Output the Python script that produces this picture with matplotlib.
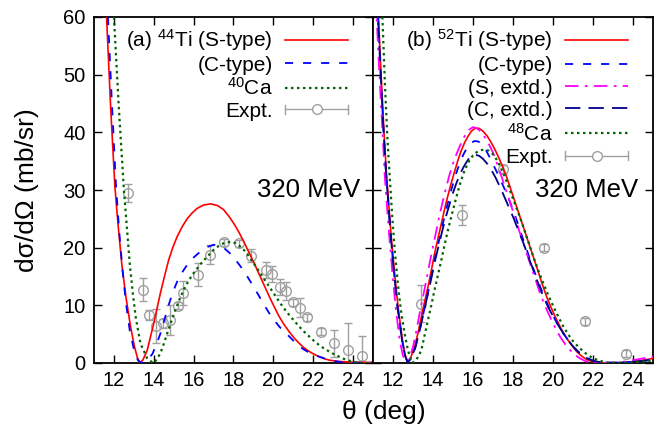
import numpy as np
import matplotlib
matplotlib.use("Agg")
import matplotlib.pyplot as plt
from matplotlib.lines import Line2D
from matplotlib.container import ErrorbarContainer
from matplotlib.legend_handler import HandlerBase

plt.rcParams['font.family'] = ['Liberation Sans', 'DejaVu Sans']
plt.rcParams['mathtext.fontset'] = 'custom'
plt.rcParams['mathtext.rm'] = 'Liberation Sans'
plt.rcParams['mathtext.it'] = 'Liberation Sans:italic'

# ---- panel (a): 44Ti / 40Ca ----
th_a_s = [11.50, 11.63, 11.84, 12.05, 12.22, 12.40, 12.60, 12.82, 13.02, 13.17, 13.30, 13.45,
          13.67, 14.00, 14.33, 14.55, 14.75, 14.95, 15.17, 15.42, 15.67, 15.92, 16.17, 16.50,
          16.85, 17.20, 17.50, 17.80, 18.05, 18.30, 18.55, 18.80, 19.05, 19.30, 19.55, 19.80,
          20.05, 20.30, 20.55, 20.80, 21.05, 21.30, 21.55, 21.80, 22.05, 22.30, 22.55, 22.80,
          23.20, 23.60, 24.30, 25.00]
ds_a_s = [70, 60, 44, 30.5, 23.5, 17.0, 11.5, 6.6, 3.0, 1.0, 0.0, 0.5,
          2.2, 6.9, 12.1, 15.2, 17.9, 20.0, 21.9, 23.6, 25.0, 26.0, 26.8, 27.4,
          27.6, 27.3, 26.6, 25.3, 24.0, 22.5, 20.8, 19.0, 17.2, 15.3, 13.4, 11.5,
          9.7, 8.0, 6.6, 5.4, 4.3, 3.4, 2.6, 2.0, 1.5, 1.1, 0.75, 0.5,
          0.3, 0.2, 0.12, 0.1]

th_a_c = [11.55, 11.70, 11.90, 12.10, 12.25, 12.42, 12.60, 12.80, 13.00, 13.20, 13.38, 13.60,
          13.92, 14.12, 14.33, 14.55, 14.75, 14.95, 15.17, 15.42, 15.67, 16.00, 16.33, 16.67,
          17.00, 17.25, 17.50, 17.80, 18.05, 18.30, 18.55, 18.80, 19.05, 19.30, 19.55, 19.80,
          20.05, 20.30, 20.55, 20.80, 21.05, 21.30, 21.55, 21.80, 22.05, 22.30, 22.65, 23.00,
          23.30, 23.60, 25.00]
ds_a_c = [72, 60, 45, 31.0, 23.5, 16.5, 10.5, 5.5, 2.4, 0.5, 0.0, 0.4,
          1.5, 3.1, 5.1, 7.7, 10.1, 12.2, 14.1, 15.7, 17.0, 18.3, 19.3, 20.1,
          20.5, 20.4, 20.0, 19.1, 18.1, 17.0, 15.8, 14.4, 13.0, 11.5, 10.0, 8.6,
          7.4, 6.3, 5.4, 4.6, 3.7, 2.9, 2.3, 1.8, 1.4, 1.1, 0.7, 0.4,
          0.2, 0.05, 0.05]

th_ca40 = [11.90, 12.00, 12.25, 12.50, 12.65, 12.80, 12.95, 13.10, 13.33, 13.67, 13.97, 14.15,
           14.33, 14.50, 14.67, 14.88, 15.08, 15.30, 15.50, 15.75, 16.00, 16.33, 16.67, 17.00,
           17.33, 17.60, 17.90, 18.10, 18.30, 18.55, 18.80, 19.05, 19.30, 19.55, 19.80, 20.05,
           20.30, 20.55, 20.80, 21.05, 21.30, 21.55, 21.80, 22.05, 22.30, 22.55, 22.80, 23.05,
           23.30, 23.55, 23.80, 24.10, 24.40, 25.00]
ds_ca40 = [72, 60, 44, 30.0, 23.5, 17.0, 12.0, 7.8, 3.4, 0.8, 0.0, 0.6,
           1.7, 3.3, 5.1, 7.2, 9.2, 11.1, 12.7, 14.3, 15.6, 17.1, 18.4, 19.6,
           20.5, 20.9, 21.0, 20.8, 20.3, 19.5, 18.4, 17.1, 15.8, 14.5, 13.2, 11.9,
           10.6, 9.4, 8.3, 7.3, 6.3, 5.4, 4.6, 3.8, 3.1, 2.5, 2.0, 1.5,
           1.1, 0.7, 0.4, 0.15, 0.0, 0.0]

exp_a_th = [12.70, 13.45, 13.78, 14.13, 14.47, 14.80, 15.20, 15.47, 16.22, 16.82, 17.53, 18.27,
            18.88, 19.63, 19.93, 20.33, 20.63, 20.97, 21.33, 21.67, 22.38, 23.05, 23.75, 24.47]
exp_a_ds = [29.5, 12.7, 8.3, 6.4, 6.9, 7.4, 9.9, 12.1, 15.3, 18.8, 20.9, 20.75,
            18.6, 16.2, 15.4, 13.2, 12.5, 10.5, 9.6, 7.9, 5.4, 3.4, 2.2, 1.2]
exp_a_err = [1.5, 2.0, 0.9, 3.0, 0.8, 2.6, 0.6, 2.1, 2.0, 1.6, 0.6, 0.6,
             1.1, 1.4, 1.4, 1.4, 1.6, 0.6, 1.6, 0.6, 0.6, 2.4, 4.8, 3.4]

# ---- panel (b): 52Ti / 48Ca ----
th_b_s = [11.15, 11.27, 11.42, 11.55, 11.67, 11.80, 11.92, 12.08, 12.25, 12.47, 12.60, 12.72,
          12.85, 13.08, 13.25, 13.42, 13.58, 13.75, 13.92, 14.08, 14.25, 14.42, 14.58, 14.75,
          14.92, 15.08, 15.25, 15.42, 15.58, 15.75, 15.92, 16.10, 16.30, 16.50, 16.70, 16.90,
          17.10, 17.30, 17.50, 17.68, 17.93, 18.18, 18.43, 18.68, 18.93, 19.18, 19.43, 19.68,
          19.93, 20.18, 20.43, 20.68, 20.93, 21.18, 21.43, 21.68, 21.93, 22.18, 22.85, 23.30,
          23.68, 24.00, 24.35, 24.70, 25.00]
ds_b_s = [70, 60, 49, 40, 33, 27, 21.5, 15.6, 9.8, 4.0, 1.5, 0.2,
          0.6, 2.8, 5.2, 8.0, 10.6, 13.2, 16.1, 19.0, 21.6, 24.2, 26.7, 29.1,
          31.3, 33.2, 35.2, 36.9, 38.2, 39.3, 40.2, 40.7, 40.7, 40.2, 39.4, 38.3,
          37.0, 35.5, 33.9, 32.3, 29.7, 27.1, 24.5, 21.9, 19.3, 16.7, 14.0, 11.5,
          9.4, 7.5, 5.8, 4.3, 3.1, 2.0, 1.2, 0.6, 0.25, 0.1, 0.0, 0.03,
          0.1, 0.2, 0.4, 0.6, 0.8]

th_b_c = [11.13, 11.25, 11.40, 11.53, 11.65, 11.78, 11.90, 12.05, 12.22, 12.45, 12.60, 12.72,
          12.85, 13.10, 13.28, 13.45, 13.62, 13.80, 13.96, 14.12, 14.30, 14.47, 14.63, 14.80,
          14.97, 15.15, 15.32, 15.50, 15.65, 15.80, 15.95, 16.10, 16.27, 16.45, 16.65, 16.83,
          17.00, 17.25, 17.50, 17.75, 18.00, 18.25, 18.50, 18.75, 19.00, 19.25, 19.50, 19.75,
          20.00, 20.25, 20.50, 20.75, 21.00, 21.25, 21.50, 21.75, 22.00, 22.35, 22.70, 23.10,
          23.50, 24.30, 25.00]
ds_b_c = [70, 60, 49, 40, 33, 27, 21.5, 15.6, 9.8, 4.0, 1.3, 0.2,
          0.5, 2.5, 4.9, 7.5, 10.2, 13.0, 15.8, 18.5, 21.2, 23.8, 26.2, 28.5,
          30.7, 32.8, 34.5, 36.0, 37.0, 37.8, 38.3, 38.5, 38.4, 37.9, 36.9, 35.7,
          34.5, 32.7, 30.8, 28.8, 26.6, 24.1, 21.5, 19.0, 16.5, 14.2, 12.0, 10.0,
          8.2, 6.6, 5.2, 4.0, 2.9, 2.0, 1.3, 0.8, 0.4, 0.15, 0.05, 0.05,
          0.1, 0.3, 0.6]

th_b_sx = [11.08, 11.18, 11.35, 11.50, 11.58, 11.70, 11.83, 11.97, 12.13, 12.33, 12.50, 12.67,
           12.80, 13.00, 13.17, 13.33, 13.50, 13.67, 13.83, 14.00, 14.17, 14.33, 14.50, 14.67,
           14.83, 15.00, 15.17, 15.33, 15.50, 15.65, 15.82, 16.00, 16.20, 16.40, 16.60, 16.80,
           17.00, 17.20, 17.40, 17.60, 17.85, 18.10, 18.35, 18.60, 18.85, 19.10, 19.35, 19.60,
           19.85, 20.10, 20.35, 20.60, 20.85, 21.10, 21.35, 21.60, 21.85, 22.50, 23.18, 23.60,
           24.02, 24.50, 25.00]
ds_b_sx = [70, 60, 48, 38.7, 32.9, 27.1, 21.3, 15.6, 9.8, 4.0, 1.2, 0.2,
           0.6, 2.8, 5.6, 8.6, 11.5, 14.4, 17.3, 20.2, 23.0, 25.7, 28.2, 30.6,
           32.7, 34.6, 36.2, 37.5, 38.8, 39.8, 40.5, 40.9, 40.7, 40.1, 39.1, 37.9,
           36.5, 34.6, 32.6, 30.5, 27.9, 25.2, 22.5, 19.9, 17.3, 14.7, 12.1, 9.9,
           8.0, 6.2, 4.6, 3.3, 2.25, 1.4, 0.8, 0.35, 0.1, 0.0, 0.1, 0.25,
           0.5, 0.8, 1.1]

th_b_cx = [11.13, 11.25, 11.40, 11.53, 11.65, 11.78, 11.90, 12.05, 12.22, 12.45, 12.60, 12.72,
           12.85, 13.10, 13.28, 13.45, 13.62, 13.80, 13.96, 14.12, 14.30, 14.47, 14.63, 14.80,
           14.97, 15.15, 15.32, 15.50, 15.65, 15.80, 15.97, 16.15, 16.32, 16.50, 16.70, 16.90,
           17.15, 17.42, 17.72, 18.02, 18.27, 18.52, 18.77, 19.02, 19.27, 19.52, 19.77, 20.02,
           20.27, 20.52, 20.77, 21.02, 21.27, 21.52, 21.77, 22.02, 22.35, 22.68, 23.10, 23.60,
           24.30, 25.00]
ds_b_cx = [70, 60, 49, 40, 33, 27, 21.5, 15.6, 9.8, 4.0, 1.3, 0.2,
           0.5, 2.5, 4.9, 7.4, 10.1, 12.8, 15.4, 18.0, 20.6, 23.0, 25.2, 27.2,
           29.2, 31.0, 32.5, 33.8, 34.7, 35.5, 35.9, 36.1, 35.9, 35.4, 34.6, 33.6,
           32.0, 30.0, 27.6, 25.2, 23.0, 20.8, 18.4, 16.1, 13.7, 11.5, 9.6, 8.0,
           6.5, 5.1, 3.9, 2.8, 1.9, 1.2, 0.7, 0.35, 0.15, 0.05, 0.05, 0.1,
           0.3, 0.5]

th_ca48 = [11.35, 11.47, 11.60, 11.72, 11.85, 11.97, 12.10, 12.25, 12.40, 12.58, 12.75, 12.95,
           13.15, 13.28, 13.42, 13.58, 13.75, 13.92, 14.08, 14.25, 14.42, 14.58, 14.75, 14.96,
           15.17, 15.38, 15.58, 15.80, 16.00, 16.20, 16.40, 16.60, 16.80, 17.00, 17.25, 17.52,
           17.77, 18.02, 18.27, 18.52, 18.77, 19.02, 19.27, 19.52, 19.77, 20.02, 20.27, 20.52,
           20.77, 21.02, 21.27, 21.52, 21.77, 22.02, 22.35, 22.68, 23.18, 23.60, 24.00, 24.50,
           25.00]
ds_ca48 = [72, 60, 48, 39, 31.5, 25, 19, 13.5, 9.0, 5.1, 2.2, 0.0,
           0.5, 1.2, 2.25, 4.8, 7.5, 10.1, 12.7, 15.3, 17.9, 20.5, 23.1, 26.0,
           28.8, 31.4, 33.4, 35.0, 36.0, 36.6, 36.9, 37.0, 36.8, 36.2, 34.9, 32.9,
           30.7, 28.3, 26.0, 23.6, 21.0, 18.4, 16.0, 13.8, 11.7, 9.8, 8.0, 6.3,
           4.9, 3.7, 2.8, 2.0, 1.3, 0.8, 0.35, 0.1, 0.0, 0.03, 0.1, 0.25,
           0.4]

exp_b_th = [13.38, 15.43, 17.49, 19.53, 21.60, 23.64]
exp_b_ds = [10.3, 25.7, 33.6, 20.0, 7.2, 1.6]
exp_b_err = [3.2, 1.7, 0.7, 0.6, 0.6, 0.6]

x_ticks = [12, 14, 16, 18, 20, 22, 24]
y_ticks = [0, 10, 20, 30, 40, 50, 60]

RED = '#ff0000'
BLUE = '#0000ff'
GREEN = '#006400'
MAGENTA = '#ff00ff'
NAVY = '#00008b'
GREY = '#a0a0a0'


class HandlerExpt(HandlerBase):
    """gnuplot-style key sample: horizontal bar with end caps and a circle."""
    def create_artists(self, legend, orig_handle, xdescent, ydescent,
                       width, height, fontsize, trans):
        x0, x1 = -xdescent, width - xdescent
        yc = (height - ydescent) / 2
        cap = 0.3 * height
        bar = Line2D([x0, x1], [yc, yc], color=GREY, lw=1.0)
        caps = Line2D([x0, x0, np.nan, x1, x1], [yc - cap, yc + cap, np.nan, yc - cap, yc + cap],
                      color=GREY, lw=1.0)
        mark = Line2D([(x0 + x1) / 2], [yc], marker='o', ms=7, mfc='white', mec=GREY,
                      mew=1.0, ls='none')
        for a in (bar, caps, mark):
            a.set_transform(trans)
        return [bar, caps, mark]


def style_axes(ax, left_labels):
    ax.set_xlim(11, 25)
    ax.set_ylim(0, 60)
    ax.set_xticks(x_ticks)
    ax.set_yticks(y_ticks)
    ax.tick_params(direction='in', length=5.5, width=1.0, top=True, right=True,
                   labelsize=14.5, pad=6, labelleft=left_labels)
    for s in ax.spines.values():
        s.set_linewidth(1.3)


def draw_expt(ax, th, ds, err):
    return ax.errorbar(th, ds, yerr=err, fmt='o', ms=7, mfc='none', mec=GREY, mew=1.0,
                       ecolor=GREY, elinewidth=1.0, capsize=3, capthick=1.0,
                       label='Expt.', zorder=1)


def add_key(ax, handles, spacing):
    ax.legend(handles=handles, loc='upper right', bbox_to_anchor=(0.91, 0.97),
              frameon=False, markerfirst=False, fontsize=15, handlelength=3.0,
              handletextpad=0.6, labelspacing=spacing, borderpad=0, borderaxespad=0,
              handler_map={ErrorbarContainer: HandlerExpt()})


fig = plt.figure(figsize=(6.59, 4.29), dpi=100)
ax1 = fig.add_axes([94 / 659, 1 - 363 / 429, 279 / 659, 346 / 429])
ax2 = fig.add_axes([373 / 659, 1 - 363 / 429, 280 / 659, 346 / 429])

# panel (a)
l1, = ax1.plot(th_a_s, ds_a_s, color=RED, lw=1.2, label='(a) $^{44}$Ti (S-type)', zorder=3)
l2, = ax1.plot(th_a_c, ds_a_c, color=BLUE, lw=1.3, dashes=(4.5, 5.5), label='(C-type)', zorder=3)
l3, = ax1.plot(th_ca40, ds_ca40, color=GREEN, lw=1.6, dashes=(1.1, 1.6), label='$^{40}$Ca', zorder=3)
e1 = draw_expt(ax1, exp_a_th, exp_a_ds, exp_a_err)
style_axes(ax1, True)
add_key(ax1, [l1, l2, l3, e1], 0.12)
ax1.text(0.953, 0.5, '320 MeV', transform=ax1.transAxes, ha='right', va='center', fontsize=18.5)

# panel (b)
m1, = ax2.plot(th_b_s, ds_b_s, color=RED, lw=1.2, label='(b) $^{52}$Ti (S-type)', zorder=3)
m2, = ax2.plot(th_b_c, ds_b_c, color=BLUE, lw=1.3, dashes=(4.5, 5.5), label='(C-type)', zorder=3)
m3, = ax2.plot(th_b_sx, ds_b_sx, color=MAGENTA, lw=1.3, dashes=(7.5, 3.5, 1.5, 3.5),
               label='(S, extd.)', zorder=3)
m4, = ax2.plot(th_b_cx, ds_b_cx, color=NAVY, lw=1.3, dashes=(8.5, 4.5), label='(C, extd.)', zorder=3)
m5, = ax2.plot(th_ca48, ds_ca48, color=GREEN, lw=1.6, dashes=(1.1, 1.6), label='$^{48}$Ca', zorder=3)
e2 = draw_expt(ax2, exp_b_th, exp_b_ds, exp_b_err)
style_axes(ax2, False)
add_key(ax2, [m1, m2, m3, m4, m5, e2], 0.15)
ax2.text(0.946, 0.5, '320 MeV', transform=ax2.transAxes, ha='right', va='center', fontsize=18.5)

fig.text(27 / 659, 1 - 190 / 429, 'dσ/dΩ (mb/sr)', rotation=90, ha='center', va='center', fontsize=19)
fig.text(384 / 659, 1 - 412 / 429, 'θ (deg)', ha='center', va='center', fontsize=19)

fig.savefig('out.png', dpi=100)
